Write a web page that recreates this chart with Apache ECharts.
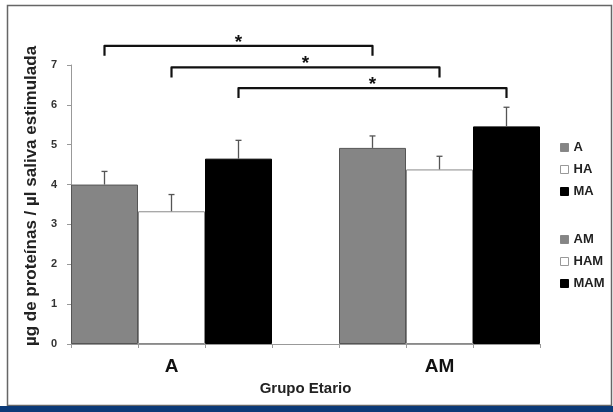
<!DOCTYPE html>
<html><head><meta charset="utf-8">
<script src="https://cdn.jsdelivr.net/npm/echarts@6/dist/echarts.min.js"></script>
<style>html,body{margin:0;padding:0;background:#fff}#c{width:613px;height:412px}</style>
</head><body><div id="c"></div>
<script>
// Category slots (7 bands, labels only on 2nd and 6th)
const categories = ['', 'A', '', '', '', 'AM', ''];
const seriesNames = ['A', 'HA', 'MA', 'AM', 'HAM', 'MAM'];
const slotIndex = [0, 1, 2, 4, 5, 6];
const means = [4.0, 3.33, 4.65, 4.92, 4.38, 5.46];
const errors = [0.33, 0.42, 0.46, 0.30, 0.33, 0.48];
// significance brackets: [fromSlot, toSlot, level]
const brackets = [[0, 4, 7.48], [1, 5, 6.94], [2, 6, 6.42]];
const bracketLabel = '*';
const yTicks = [0, 1, 2, 3, 4, 5, 6, 7];

const fills = ['#858585', '#ffffff', '#000000', '#858585', '#ffffff', '#000000'];
const borders = ['#555555', '#8a8a8a', '#000000', '#555555', '#8a8a8a', '#000000'];
const legendBorders = ['#888888', '#999999', '#000000', '#888888', '#999999', '#000000'];
const FONT = "'Liberation Sans', Arial, sans-serif";

const barSeries = seriesNames.map((n, i) => {
  const d = categories.map(() => '-');
  d[slotIndex[i]] = means[i];
  return {
    name: n, type: 'bar', stack: 'g', barWidth: '100%', data: d,
    itemStyle: { color: fills[i], borderColor: borders[i], borderWidth: 1 },
    emphasis: { disabled: true }, z: 2
  };
});

const errSeries = {
  type: 'custom', z: 5, silent: true,
  data: means.map((m, i) => [slotIndex[i], m, m + errors[i]]),
  renderItem: (params, api) => {
    const p0 = api.coord([api.value(0), api.value(1)]);
    const p1 = api.coord([api.value(0), api.value(2)]);
    const st = { stroke: '#555', lineWidth: 1.3 };
    return { type: 'group', children: [
      { type: 'line', shape: { x1: p0[0], y1: p0[1], x2: p1[0], y2: p1[1] }, style: st },
      { type: 'line', shape: { x1: p1[0] - 3, y1: p1[1], x2: p1[0] + 3, y2: p1[1] }, style: st }
    ]};
  }
};

const bracketSeries = {
  type: 'custom', z: 6, silent: true, clip: false,
  data: brackets,
  renderItem: (params, api) => {
    const a = api.coord([api.value(0), api.value(2)]);
    const b = api.coord([api.value(1), api.value(2)]);
    const drop = 10;
    return { type: 'group', children: [
      { type: 'polyline', shape: { points: [[a[0], a[1] + drop], [a[0], a[1]], [b[0], b[1]], [b[0], b[1] + drop]] },
        style: { stroke: '#111', lineWidth: 2.2, fill: null, lineJoin: 'round' } },
      { type: 'text', style: { text: bracketLabel, x: (a[0] + b[0]) / 2, y: a[1] + 6, align: 'center', verticalAlign: 'bottom',
        font: 'bold 19px ' + FONT, fill: '#111' } }
    ]};
  }
};

const legendItems = seriesNames.map((n, i) => ({ name: n, icon: 'rect',
  itemStyle: { color: fills[i], borderColor: legendBorders[i], borderWidth: 1 } }));

const chart = echarts.init(document.getElementById('c'), null, { renderer: 'canvas' });
const legendText = { fontFamily: FONT, fontWeight: 'bold', fontSize: 13, color: '#222' };
chart.setOption({
  animation: false,
  backgroundColor: '#fff',
  grid: { left: 71, right: 73, top: 65, bottom: 68 },
  legend: [
    { data: legendItems.slice(0, 3), orient: 'vertical', left: 555, top: 136, itemWidth: 8, itemHeight: 8, itemGap: 9,
      textStyle: legendText, selectedMode: false },
    { data: legendItems.slice(3), orient: 'vertical', left: 555, top: 228, itemWidth: 8, itemHeight: 8, itemGap: 9,
      textStyle: legendText, selectedMode: false }
  ],
  xAxis: {
    type: 'category', data: categories,
    axisLine: { lineStyle: { color: '#999' } },
    axisTick: { show: true, interval: 0, alignWithLabel: false, length: 4, lineStyle: { color: '#999' } },
    axisLabel: { interval: 0, fontFamily: FONT, fontWeight: 'bold', fontSize: 19, color: '#111', margin: 13 },
    name: 'Grupo Etario', nameLocation: 'middle', nameGap: 37,
    nameTextStyle: { fontFamily: FONT, fontWeight: 'bold', fontSize: 15, color: '#222' }
  },
  yAxis: {
    type: 'value', min: 0, max: 7, interval: 1,
    axisLine: { show: true, lineStyle: { color: '#999' } },
    axisTick: { show: true, length: 4, lineStyle: { color: '#999' } },
    splitLine: { show: false },
    axisLabel: { fontFamily: FONT, fontWeight: 'bold', fontSize: 11, color: '#333', margin: 14,
      formatter: v => yTicks.includes(v) ? String(v) : '' },
    name: 'µg de proteínas / µl saliva estimulada', nameLocation: 'middle', nameGap: 28,
    nameTextStyle: { fontFamily: FONT, fontWeight: 'bold', fontSize: 17, color: '#222', padding: [0, 0, 0, 17] }
  },
  graphic: [
    { type: 'rect', shape: { x: 7.5, y: 5.5, width: 604, height: 400 }, style: { fill: null, stroke: '#666', lineWidth: 1.5 }, z: 0, silent: true },
    { type: 'rect', shape: { x: 0, y: 406, width: 613, height: 6 }, style: { fill: '#0b3a78' }, z: 0, silent: true }
  ],
  series: [...barSeries, errSeries, bracketSeries]
});
</script></body></html>
